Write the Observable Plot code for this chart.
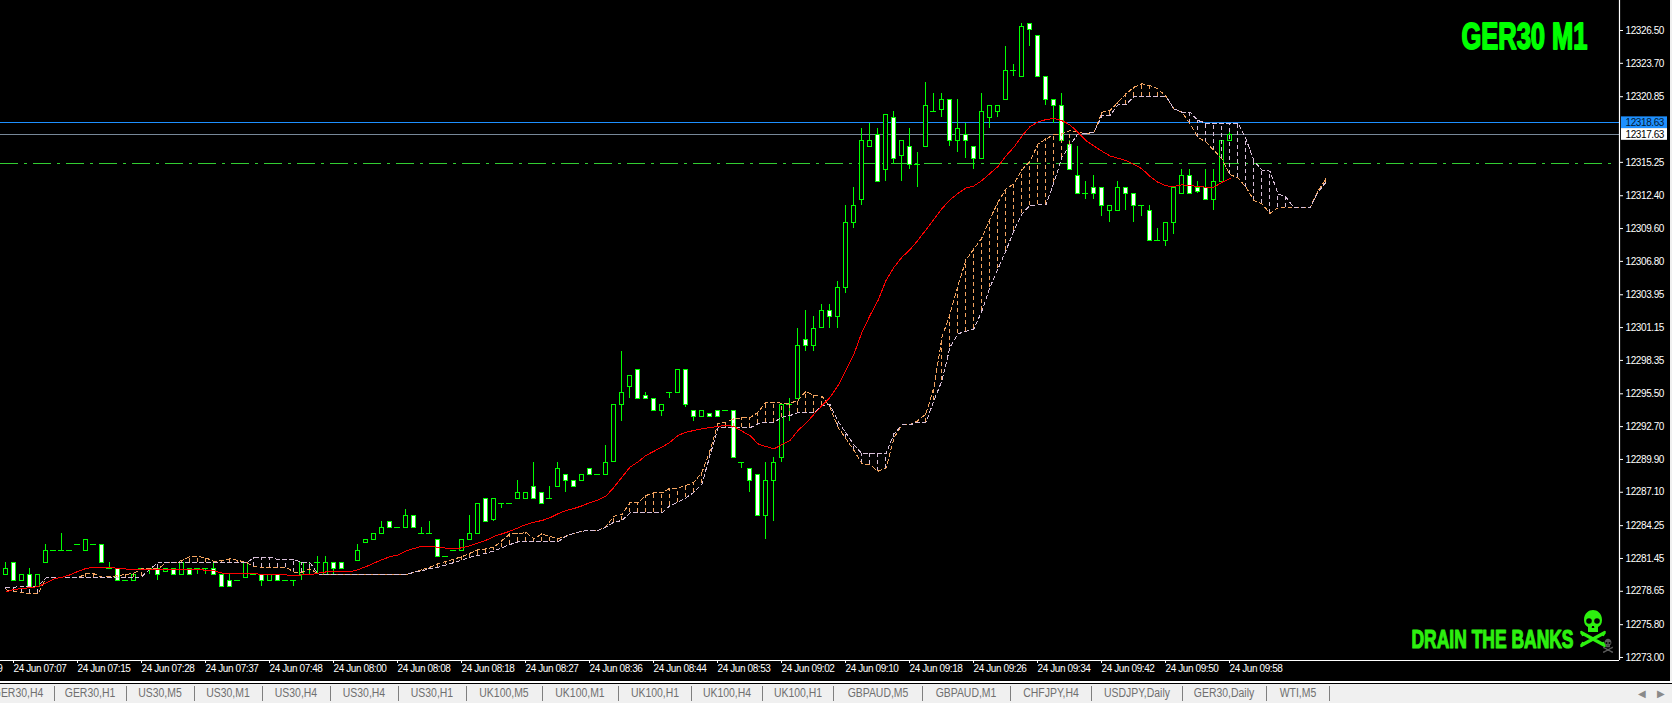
<!DOCTYPE html>
<html>
<head>
<meta charset="utf-8">
<script src="https://cdn.jsdelivr.net/npm/d3@7"></script>
<script src="https://cdn.jsdelivr.net/npm/@observablehq/plot@0.6"></script>
<style>
html,body{margin:0;padding:0;background:#000;overflow:hidden}
#wrap{position:relative;width:1672px;height:703px;background:#000;overflow:hidden}
#chart svg{display:block}
#stripe{position:absolute;left:1670px;top:0;width:2px;height:684px;background:#f0f0f0}
#line1{position:absolute;left:0;top:681px;width:1672px;height:2px;background:#fff}
#line2{position:absolute;left:0;top:683px;width:1672px;height:1px;background:#000}
#tabs{position:absolute;left:0;top:684px;width:1672px;height:19px;background:#f0f0f0;overflow:hidden}
.tab{position:absolute;top:1px;height:17px;line-height:17px;font:12px/17px "Liberation Sans",sans-serif;color:#6f6f6f;transform:translateX(-50%) scaleX(.87);white-space:nowrap}
.sep{position:absolute;top:2px;width:1px;height:15px;background:#7f7f7f}
.arr{position:absolute;top:1px;font:10px/17px "DejaVu Sans",sans-serif;color:#8a8a8a}
</style>
</head>
<body>
<div id="wrap">
<div id="chart"></div>
<div id="stripe"></div><div id="line1"></div><div id="line2"></div>
<div id="tabs"></div>
</div>
<script>
// all series are price minus priceBase
const priceBase = 12200;
const opens = [
80.1,81.1,79.6,80.1,79.1,81.1,82.1,82.1,82.1,82.6,
82.1,82.6,82.6,80.6,80.6,79.6,79.6,80.6,80.6,80.6,
80.35,80.6,80.1,80.6,80.6,80.6,80.6,80.1,79.6,79.6,
79.85,80.1,80.1,79.6,80.1,79.6,79.6,80.1,80.1,81.1,
80.1,81.1,81.1,80.1,81.3,82.8,83.1,83.6,84.6,84.1,
84.1,85.1,83.6,83.6,83.1,81.6,82.1,82.1,83.1,83.6,
86.6,84.8,86.1,86.1,86.6,86.6,87.6,87.1,86.6,87.6,
88.6,88.1,88.1,89.1,88.6,88.6,89.7,94.6,96.1,97.6,
95.35,95.1,94.1,95.6,95.6,97.6,94.1,93.6,93.85,94.1,
94.1,94.1,89.6,89.1,88.6,85.1,88.1,90.1,94.6,95.1,
100.1,99.6,101.2,102.6,102.1,104.6,110.1,112.1,116.6,117.6,
114.6,119.1,115.8,116.6,115.1,116.6,119.6,119.8,120.6,117.1,
117.6,116.6,115.6,119.1,119.6,120.6,123.1,122.6,127.1,126.1,
122.6,120.6,120.1,116.8,114.1,112.6,113.1,113.1,111.1,111.1,
113.1,112.6,111.6,111.1,108.6,108.6,110.1,112.6,114.1,113.1,
113.1,112.1,113.6,117.1];
const closes = [
80.6,79.6,80.1,79.1,80.1,82.1,82.1,82.1,82.1,82.6,
83.1,82.6,81.1,80.6,79.6,79.6,80.1,80.6,80.6,80.1,
80.6,80.1,81.1,80.1,80.6,80.6,80.1,79.1,79.1,79.6,
81.1,80.1,79.6,80.1,79.6,79.6,79.6,81.1,80.1,81.1,
81.1,80.6,80.6,80.1,82.1,83.1,83.6,84.1,84.1,84.1,
85.1,84.1,83.6,83.6,81.6,81.6,82.1,83.1,83.6,86.1,
84.6,86.6,86.1,86.1,87.1,87.1,86.6,86.1,86.6,89.1,
88.1,87.6,88.6,88.6,88.6,89.6,94.6,95.6,97.1,95.1,
95.1,94.1,94.6,95.6,97.6,94.6,93.6,94.1,93.6,93.6,
94.1,90.1,89.6,88.1,85.1,88.1,89.6,94.6,94.6,99.6,
99.6,101.1,102.6,102.1,104.6,110.1,111.6,117.1,117.1,113.6,
119.3,115.6,117.1,115.1,115.1,120.1,119.6,120.6,117.1,118.1,
117.1,115.6,119.6,120.1,120.1,123.1,123.1,126.8,126.6,122.6,
120.6,120.1,117.1,114.6,112.6,112.6,112.6,111.6,111.6,113.1,
112.6,111.6,111.6,108.6,108.6,110.1,113.1,114.1,112.6,112.8,
112.1,113.6,117.1,117.6];
const highs = [
81.1,81.1,80.1,80.6,80.1,82.6,82.1,83.6,82.1,82.6,
83.1,82.6,82.6,81.1,80.6,79.6,80.1,80.6,80.6,80.6,
80.6,80.6,81.1,80.6,80.6,80.6,81.1,80.1,80.1,79.6,
81.1,80.1,80.1,80.1,80.1,79.6,79.6,81.1,81.1,81.6,
81.6,81.1,81.1,80.1,82.6,83.1,83.6,84.6,84.6,84.1,
85.6,85.1,84.1,84.6,83.1,81.6,82.1,83.1,85.1,86.1,
86.6,86.6,86.1,86.1,88.1,87.1,89.6,87.1,87.6,89.6,
88.6,88.1,88.6,89.1,88.6,91.1,94.6,99.1,97.1,97.6,
95.6,95.1,94.6,95.6,97.6,97.6,94.1,94.1,93.85,94.1,
94.1,94.1,89.6,89.1,88.6,89.6,90.1,94.6,95.1,101.1,
102.6,102.1,103.1,103.1,105.1,111.6,113.1,118.1,118.6,118.1,
119.3,119.6,117.1,118.1,116.1,122.1,121.1,121.1,120.6,120.6,
118.6,116.6,121.1,120.1,120.1,125.1,123.6,127.1,127.1,126.1,
122.6,120.6,121.1,117.1,116.6,113.6,114.1,113.1,111.6,113.6,
113.1,112.6,111.6,111.6,109.6,110.1,113.1,114.6,114.6,113.6,
114.6,114.6,117.1,118.1];
const lows = [
80.1,79.6,79.6,79.1,79.1,81.1,82.1,82.1,82.1,82.6,
82.1,82.6,81.1,80.6,79.6,79.6,79.6,80.6,80.1,79.6,
80.35,80.1,80.1,80.1,80.1,80.1,80.1,79.1,79.1,79.6,
79.85,80.1,79.1,79.6,79.6,79.6,79.1,79.6,80.1,80.1,
80.1,80.1,80.6,80.1,81.3,82.8,83.1,83.6,84.1,84.1,
84.1,84.1,83.6,83.6,81.6,81.6,82.1,82.1,83.1,83.6,
84.6,84.6,85.7,86.1,86.6,86.6,86.6,86.1,86.6,87.6,
87.1,87.6,88.1,88.6,88.6,88.6,89.7,93.1,95.1,95.1,
95.1,94.1,93.6,95.1,95.6,94.3,93.1,93.6,93.6,93.6,
94.1,90.1,89.1,87.1,85.1,83.1,84.6,89.6,93.1,95.1,
99.1,99.1,101.2,101.1,101.1,104.1,109.6,111.6,116.6,113.6,
113.6,115.1,113.6,114.6,113.1,116.6,119.6,119.1,116.6,116.1,
115.6,114.6,115.6,118.1,119.1,120.6,122.6,122.6,125.1,122.6,
120.1,118.6,117.1,114.6,112.6,112.1,112.1,110.6,110.1,111.1,
111.1,110.1,110.6,108.6,108.6,108.1,109.1,112.6,112.6,112.6,
112.1,111.1,113.6,117.1];
const movingAverage = [
78.6,78.8,78.9,78.95,79.05,79.35,79.7,79.85,80.05,80.35,
80.6,80.7,80.7,80.7,80.6,80.55,80.5,80.5,80.5,80.5,
80.5,80.5,80.5,80.5,80.5,80.45,80.4,80.2,80.15,80.15,
80.2,80.15,80.1,80.1,80.05,80.05,79.95,80.05,80.05,80.2,
80.3,80.3,80.3,80.3,80.5,80.75,81.05,81.35,81.6,81.75,
82.1,82.3,82.5,82.5,82.4,82.33,82.27,82.36,82.53,82.78,
83.0,83.33,83.55,83.78,84.06,84.35,84.55,84.69,84.92,85.26,
85.54,85.71,85.94,86.22,86.45,86.77,87.53,88.39,89.24,89.69,
90.24,90.6,90.95,91.37,91.94,92.23,92.37,92.51,92.62,92.71,
92.82,92.71,92.31,91.94,91.23,91.0,90.8,91.17,91.52,92.37,
93.0,93.75,94.5,95.2,96.2,97.5,98.9,100.76,102.18,103.46,
105.17,106.3,107.16,107.8,108.6,109.5,110.4,111.3,112.05,112.6,
113.07,113.24,113.7,114.3,114.9,115.8,116.55,117.5,118.3,118.7,
118.9,119.0,118.8,118.45,117.8,117.1,116.65,116.2,115.8,115.6,
115.4,115.07,114.7,114.04,113.55,113.24,113.2,113.33,113.27,113.2,
113.13,113.13,113.55,113.87];
const spanA = [
78.77,78.66,78.57,78.43,78.43,79.8,79.8,79.8,79.8,79.8,
80.14,80.14,79.85,79.9,79.99,80.08,80.2,80.57,80.57,80.57,
81.08,81.08,81.28,81.62,81.62,81.5,81.19,81.28,81.42,81.28,
81.13,80.76,80.71,80.71,80.71,80.71,80.28,80.28,80.57,80.14,
80.05,80.05,80.05,80.05,80.05,80.05,80.05,80.05,80.05,80.05,
80.05,80.28,80.5,80.7,81.0,81.2,81.4,81.6,81.9,82.19,
82.27,82.41,82.98,83.55,83.55,83.67,83.13,83.55,83.32,83.13,
83.35,83.61,83.78,83.84,83.84,84.18,85.06,85.2,86.2,86.2,
86.82,87.05,87.05,87.45,87.45,87.68,87.96,88.81,90.66,92.94,
93.08,93.36,93.45,93.45,93.93,94.79,94.76,94.7,94.7,94.93,
95.72,95.35,95.3,94.36,92.65,91.66,90.66,89.52,89.44,88.9,
89.15,91.74,92.85,92.85,93.22,93.79,96.07,100.33,102.32,104.74,
106.93,107.87,108.81,110.43,111.85,112.99,113.41,114.61,115.35,116.8,
117.25,117.62,117.68,117.97,117.82,117.68,117.82,119.53,119.67,120.38,
121.09,121.66,121.95,121.8,121.52,120.87,119.81,119.53,118.54,117.4,
116.97,116.26,115.55,114.2,113.93,113.13,112.0,111.71,110.9,111.37,
111.37,111.37,111.37,111.37,112.79,113.84];
const spanB = [
79.0,79.0,79.06,79.06,79.06,79.8,79.8,79.8,79.8,79.8,
79.8,79.8,79.8,79.8,79.8,79.8,79.8,79.9,80.57,81.08,
81.08,81.08,81.08,81.08,81.08,81.08,81.08,81.08,81.08,81.08,
81.08,81.5,81.56,81.56,81.36,81.36,81.36,81.08,81.08,80.14,
80.05,80.05,80.05,80.05,80.05,80.05,80.05,80.05,80.05,80.05,
80.05,80.28,80.4,80.6,80.7,80.9,81.1,81.3,81.55,81.7,
81.9,82.1,82.36,82.64,82.87,82.87,82.87,82.87,82.87,82.87,
83.35,83.61,83.78,83.84,83.84,84.12,84.55,84.69,85.34,85.34,
85.34,85.34,85.34,85.97,86.25,86.62,87.11,87.82,90.24,92.6,
92.6,92.6,92.6,92.6,92.94,93.08,93.08,93.5,93.65,93.88,
93.88,93.88,94.5,94.59,93.16,92.14,91.15,90.38,90.38,90.38,
90.38,92.08,92.85,92.85,93.08,93.08,94.93,96.63,99.48,100.62,
100.84,101.04,102.6,104.6,106.16,107.73,109.43,110.85,111.57,111.62,
111.62,113.56,115.69,116.69,117.68,117.74,117.82,119.25,119.25,120.16,
120.16,120.87,120.87,120.87,120.87,120.87,119.81,119.53,119.53,118.82,
118.59,118.59,118.59,118.59,118.59,117.25,115.35,114.6,114.5,112.56,
112.28,111.37,111.37,111.37,112.7,113.56];
const timeLabels = ["24 Jun 06:59","24 Jun 07:07","24 Jun 07:15","24 Jun 07:28","24 Jun 07:37","24 Jun 07:48","24 Jun 08:00","24 Jun 08:08","24 Jun 08:18","24 Jun 08:27","24 Jun 08:36","24 Jun 08:44","24 Jun 08:53","24 Jun 09:02","24 Jun 09:10","24 Jun 09:18","24 Jun 09:26","24 Jun 09:34","24 Jun 09:42","24 Jun 09:50","24 Jun 09:58"];
const timeTickBars = [-7,1,9,17,25,33,41,49,57,65,73,81,89,97,105,113,121,129,137,145,153];
const priceTicks = [12329.35,12326.50,12323.70,12320.85,12315.25,12312.40,12309.60,12306.80,12303.95,12301.15,12298.35,12295.50,12292.70,12289.90,12287.10,12284.25,12281.45,12278.65,12275.80,12273.00];
const bidLevel = [12318.63];
const askLevel = [12317.63];
const signalLevel = [12315.15];
const tabLabels = ["GER30,H4","GER30,H1","US30,M5","US30,M1","US30,H4","US30,H4","US30,H1","UK100,M5","UK100,M1","UK100,H1","UK100,H4","UK100,H1","GBPAUD,M5","GBPAUD,M1","CHFJPY,H4","USDJPY,Daily","GER30,Daily","WTI,M5"];
const tabSeparators = [54,126,194,262,330,398,466,542,618,691,762,833,922,1010,1091,1182,1266,1329];

const GREEN = "#00ff00", LIME = "#2df00f";
const bars = opens.map((o,i)=>({k:i,open:o+priceBase,close:closes[i]+priceBase,high:highs[i]+priceBase,low:lows[i]+priceBase,ma:movingAverage[i]+priceBase}));
const cloud = spanA.map((a,i)=>({k:i,a:a+priceBase,b:spanB[i]+priceBase}));
const bull = bars.filter(d=>d.close>d.open);
const bear = bars.filter(d=>d.close<d.open);
const doji = bars.filter(d=>d.close===d.open);
const wicks = bars.filter(d=>d.high>d.low);
const xMin=-0.625, xMax=201.75;

// skull-and-crossbones badge, drawn as a decorative overlay
function skull(cx, cy, scale, color, hole){
  return () => {
    const g = d3.create("svg:g").attr("transform",`translate(${cx},${cy}) scale(${scale})`);
    g.append("path").attr("d","M-9,-9 C-9,-16 -4,-19 0,-19 C4,-19 9,-16 9,-9 C9,-5 7,-3 5,-2 L5,3 L-5,3 L-5,-2 C-7,-3 -9,-5 -9,-9 Z").attr("fill",color);
    g.append("circle").attr("cx",-4).attr("cy",-8).attr("r",2.8).attr("fill",hole);
    g.append("circle").attr("cx",4).attr("cy",-8).attr("r",2.8).attr("fill",hole);
    g.append("path").attr("d","M-1,-3 L1,-3 L1.3,-1 L-1.3,-1 Z").attr("fill",hole);
    g.append("path").attr("d","M-11,4 L11,16 M11,4 L-11,16").attr("stroke",color).attr("stroke-width",3.4).attr("stroke-linecap","round");
    g.append("path").attr("d","M-12,2 L-10,7 M12,2 L10,7 M-12,18 L-10,13 M12,18 L10,13").attr("stroke",color).attr("stroke-width",2);
    return g.node();
  };
}

const crisp = {shapeRendering:"crispEdges"};
const headlineFont = '"Liberation Sans Narrow","Liberation Sans",sans-serif';
const plot = Plot.plot({
  width:1672,height:681,marginLeft:0,marginRight:53,marginTop:0,marginBottom:21,
  style:{background:"#000",color:"#fff",fontFamily:'"Liberation Sans",sans-serif',fontSize:"10px",letterSpacing:"-0.4px"},
  x:{domain:[xMin,xMax],axis:null},
  y:{domain:[12272.744,12329.06],axis:null},
  marks:[
    Plot.ruleY(bidLevel,{stroke:"#1e90ff",strokeWidth:1,...crisp}),
    Plot.ruleY(askLevel,{stroke:"#778899",strokeWidth:1,...crisp}),
    Plot.ruleY(signalLevel,{stroke:"#32cd32",strokeWidth:1,strokeDasharray:"18,6,3,6",x2:xMax-0.75,x1:xMin,...crisp}),
    Plot.ruleX(wicks,{x:"k",y1:"low",y2:"high",stroke:GREEN,strokeWidth:1,...crisp}),
    Plot.rect(bull,{x1:d=>d.k-0.25,x2:d=>d.k+0.25,y1:"open",y2:"close",fill:"#000",stroke:GREEN,strokeWidth:1,dx:0.5,dy:0.5,...crisp}),
    Plot.rect(bear,{x1:d=>d.k-0.25,x2:d=>d.k+0.25,y1:"open",y2:"close",fill:"#fff",stroke:GREEN,strokeWidth:1,dx:0.5,dy:0.5,...crisp}),
    Plot.ruleY(doji,{y:"close",x1:d=>d.k-0.32,x2:d=>d.k+0.32,stroke:GREEN,strokeWidth:1,...crisp}),
    Plot.ruleX(cloud.filter(d=>d.a>d.b),{x:"k",y1:"b",y2:"a",stroke:"#f4a460",strokeWidth:1,strokeDasharray:"4,3",...crisp}),
    Plot.ruleX(cloud.filter(d=>d.b>d.a),{x:"k",y1:"a",y2:"b",stroke:"#d8bfd8",strokeWidth:1,strokeDasharray:"4,3",...crisp}),
    Plot.line(cloud,{x:"k",y:"a",stroke:"#f4a460",strokeWidth:1,strokeDasharray:"4,3",dx:0.5,...crisp}),
    Plot.line(cloud,{x:"k",y:"b",stroke:"#d8bfd8",strokeWidth:1,strokeDasharray:"4,3",dx:0.5,...crisp}),
    Plot.line(bars,{x:"k",y:"ma",stroke:"#ff0000",strokeWidth:1,dx:0.5,...crisp}),
    Plot.ruleX([xMax],{stroke:"#fff",strokeWidth:1.2}),
    Plot.ruleY([12272.744],{stroke:"#fff",strokeWidth:1.2}),
    Plot.axisX({anchor:"bottom",ticks:timeTickBars,tickFormat:(d)=>timeLabels[timeTickBars.indexOf(d)],tickSize:3,tickPadding:1,textAnchor:"start",lineAnchor:"top",stroke:"#fff",fill:"#fff",label:null,fontSize:10}),
    Plot.axisY({anchor:"right",ticks:priceTicks,tickFormat:d3.format(".2f"),tickSize:3,tickPadding:3,stroke:"#fff",fill:"#fff",label:null,fontSize:10}),
    Plot.rect(bidLevel,{x1:()=>xMax,x2:()=>xMax,y1:d=>d-0.5,y2:d=>d+0.5,insetLeft:2,insetRight:-48,fill:"#1e90ff"}),
    Plot.rect(askLevel,{x1:()=>xMax,x2:()=>xMax,y1:d=>d-0.5,y2:d=>d+0.5,insetLeft:2,insetRight:-48,fill:"#fff"}),
    Plot.text(bidLevel,{x:()=>xMax,y:d=>d,text:d=>d3.format(".2f")(d),dx:6,textAnchor:"start",fill:"#04182e",fontSize:10}),
    Plot.text(askLevel,{x:()=>xMax,y:d=>d,text:d=>d3.format(".2f")(d),dx:6,textAnchor:"start",fill:"#000",fontSize:10}),
    Plot.text(["GER30 M1"],{frameAnchor:"top-left",textAnchor:"start",lineAnchor:"bottom",dx:1461,dy:48,fontFamily:headlineFont,fontWeight:"bold",fontSize:37,fill:GREEN,stroke:GREEN,strokeWidth:1.8,className:"ger"}),
    Plot.text(["DRAIN THE BANKS"],{frameAnchor:"top-left",textAnchor:"start",lineAnchor:"bottom",dx:1411,dy:647,fontFamily:headlineFont,fontWeight:"bold",fontSize:26,fill:LIME,stroke:LIME,strokeWidth:1.2,className:"drain"}),
    skull(1593,629,1,LIME,"#000"),
    skull(1608,646,0.38,"#5c5c5c","#000")
  ]
});
d3.select(plot).selectAll(".ger text").attr("textLength",126).attr("lengthAdjust","spacingAndGlyphs").style("letter-spacing","0");
d3.select(plot).selectAll(".drain text").attr("textLength",162).attr("lengthAdjust","spacingAndGlyphs").style("letter-spacing","0");
document.getElementById("chart").appendChild(plot);

const tabs = document.getElementById("tabs");
tabLabels.forEach((t,i)=>{
  const right = tabSeparators[i];
  const left = i===0 ? -18 : tabSeparators[i-1];
  const el=document.createElement("div");el.className="tab";el.textContent=t;el.style.left=((left+right)/2)+"px";tabs.appendChild(el);
  const s=document.createElement("div");s.className="sep";s.style.left=right+"px";tabs.appendChild(s);
});
[["\u25C0",1638],["\u25B6",1657]].forEach(([t,x])=>{const a=document.createElement("div");a.className="arr";a.textContent=t;a.style.left=x+"px";tabs.appendChild(a);});
</script>
</body>
</html>
